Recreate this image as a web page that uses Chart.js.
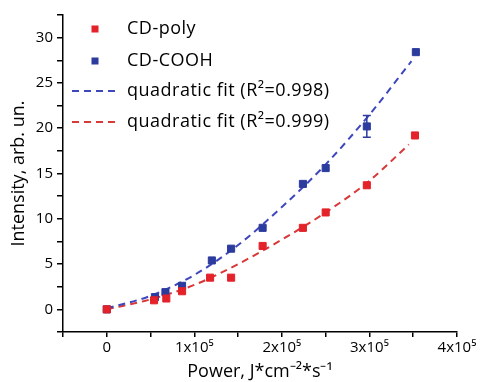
<!DOCTYPE html>
<html>
<head>
<meta charset="utf-8">
<script src="https://cdn.jsdelivr.net/npm/chart.js@4.4.1/dist/chart.umd.min.js"></script>
<style>
  html, body { margin: 0; padding: 0; background: #fff; }
  #wrap { position: relative; width: 480px; height: 382px; }
</style>
</head>
<body>
<div id="wrap"><canvas id="chart" width="480" height="382"></canvas></div>
<script>
// values (x in J*cm^-2*s^-1)
const polyX = [0, 54000, 68000, 86000, 118000, 142000, 178000, 224000, 250000, 297000, 352000];
const polyY = [0, 1.0, 1.2, 2.0, 3.5, 3.5, 7.0, 9.0, 10.7, 13.7, 19.2];

const coohX = [0, 55000, 67000, 86000, 120000, 142000, 178000, 224000, 250000, 297000, 353000];
const coohY = [0, 1.35, 1.9, 2.6, 5.4, 6.7, 9.0, 13.85, 15.6, 20.2, 28.4];
const coohErr = [0, 0, 0, 0, 0, 0, 0, 0, 0, 1.2, 0];

// dashed fit curves
const coohFitX = [0, 50000, 100000, 150000, 200000, 250000, 300000, 348000];
const coohFitY = [0.1, 1.5, 3.8, 7.1, 11.3, 16.0, 21.5, 27.4];
const polyFitX = [0, 50000, 100000, 150000, 200000, 250000, 300000, 345000];
const polyFitY = [0, 1.1, 2.7, 5.0, 7.7, 10.7, 14.2, 18.2];

const xTickLabels = { 0: '0', 100000: '1x10⁵', 200000: '2x10⁵', 300000: '3x10⁵', 400000: '4x10⁵' };
const yTickLabels = [0, 5, 10, 15, 20, 25, 30];

const legendLabels = ['CD-poly', 'CD-COOH', 'quadratic fit (R²=0.998)', 'quadratic fit (R²=0.999)'];

const RED = '#e32229';
const BLUE = '#2b3b9e';
const BLUE_FIT = '#3f47bd';
const RED_FIT = '#d93838';

const toPts = (xs, ys) => xs.map((x, i) => ({ x: x, y: ys[i] }));

// error bars on the point series
const errorBars = {
  id: 'errorBars',
  afterDatasetsDraw(chart) {
    const { ctx, scales } = chart;
    ctx.save();
    ctx.strokeStyle = BLUE;
    ctx.lineWidth = 1.5;
    coohX.forEach((x, i) => {
      if (!coohErr[i]) return;
      const px = scales.x.getPixelForValue(x);
      const top = scales.y.getPixelForValue(coohY[i] + coohErr[i]);
      const bot = scales.y.getPixelForValue(coohY[i] - coohErr[i]);
      ctx.beginPath();
      ctx.moveTo(px, top); ctx.lineTo(px, bot);
      ctx.moveTo(px - 4, top); ctx.lineTo(px + 4, top);
      ctx.moveTo(px - 4, bot); ctx.lineTo(px + 4, bot);
      ctx.stroke();
    });
    ctx.restore();
  }
};

// legend drawn inside the plot, top left
const insideLegend = {
  id: 'insideLegend',
  afterDraw(chart) {
    const { ctx } = chart;
    const rows = [29, 61, 91, 122];
    ctx.save();
    ctx.font = '18px "Open Sans"';
    ctx.letterSpacing = '0.5px';
    ctx.textBaseline = 'middle';
    ctx.fillStyle = '#000';
    chart.data.datasets.forEach((ds, i) => {
      const y = rows[i];
      if (ds.showLine) {
        ctx.strokeStyle = ds.borderColor;
        ctx.lineWidth = ds.borderWidth;
        ctx.setLineDash(ds.borderDash);
        ctx.beginPath();
        ctx.moveTo(72, y); ctx.lineTo(120, y);
        ctx.stroke();
        ctx.setLineDash([]);
      } else {
        ctx.fillStyle = ds.backgroundColor;
        ctx.fillRect(91.5, y - 3.5, 7, 7);
        ctx.fillStyle = '#000';
      }
      ctx.fillText(legendLabels[i], 127, y);
    });
    ctx.restore();
  }
};

new Chart(document.getElementById('chart'), {
  type: 'scatter',
  data: {
    datasets: [
      {
        label: legendLabels[0],
        data: toPts(polyX, polyY),
        backgroundColor: RED,
        borderColor: RED,
        pointStyle: 'rect',
        pointRadius: 5,
        pointHoverRadius: 5,
        showLine: false
      },
      {
        label: legendLabels[1],
        data: toPts(coohX, coohY),
        backgroundColor: BLUE,
        borderColor: BLUE,
        pointStyle: 'rect',
        pointRadius: 5,
        pointHoverRadius: 5,
        showLine: false
      },
      {
        label: legendLabels[2],
        data: toPts(coohFitX, coohFitY),
        borderColor: BLUE_FIT,
        borderWidth: 2,
        borderDash: [7, 5],
        pointRadius: 0,
        showLine: true,
        cubicInterpolationMode: 'monotone'
      },
      {
        label: legendLabels[3],
        data: toPts(polyFitX, polyFitY),
        borderColor: RED_FIT,
        borderWidth: 2,
        borderDash: [7, 5],
        pointRadius: 0,
        showLine: true,
        cubicInterpolationMode: 'monotone'
      }
    ]
  },
  options: {
    responsive: false,
    animation: false,
    layout: { padding: { top: 15, right: 23, left: 0, bottom: 0 } },
    plugins: {
      legend: { display: false },
      tooltip: { enabled: false }
    },
    scales: {
      x: {
        type: 'linear',
        min: -50000,
        max: 400000,
        afterBuildTicks: s => {
          const t = [];
          for (let v = -50000; v <= 400000; v += 50000) t.push({ value: v });
          s.ticks = t;
        },
        afterFit: s => { s.height = 50; },
        border: { display: true, color: '#000', width: 1.5 },
        grid: { drawOnChartArea: false, drawTicks: true, tickLength: 5, color: '#000', lineWidth: 1.5 },
        ticks: {
          autoSkip: false,
          maxRotation: 0,
          padding: 2,
          color: '#000',
          font: { family: 'Open Sans', size: 15 },
          callback: v => xTickLabels[v] || ''
        },
        title: {
          display: true,
          text: 'Power, J*cm⁻²*s⁻¹',
          color: '#000',
          font: { family: 'Open Sans', size: 18, lineHeight: 1 },
          padding: { top: 0, bottom: 1 }
        }
      },
      y: {
        min: -2.5,
        max: 32.5,
        afterBuildTicks: s => {
          const t = [];
          for (let v = -2.5; v <= 32.5; v += 2.5) t.push({ value: v });
          s.ticks = t;
        },
        afterFit: s => { s.width = 63; },
        border: { display: true, color: '#000', width: 1.5 },
        grid: { drawOnChartArea: false, drawTicks: true, tickLength: 6, color: '#000', lineWidth: 1.5 },
        ticks: {
          autoSkip: false,
          padding: 4,
          color: '#000',
          font: { family: 'Open Sans', size: 15 },
          callback: v => (yTickLabels.includes(v) ? String(v) : '')
        },
        title: {
          display: true,
          text: 'Intensity, arb. un.',
          color: '#000',
          font: { family: 'Open Sans', size: 18, lineHeight: 1 },
          padding: { top: 10, bottom: 0 }
        }
      }
    }
  },
  plugins: [errorBars, insideLegend]
});
</script>
</body>
</html>
